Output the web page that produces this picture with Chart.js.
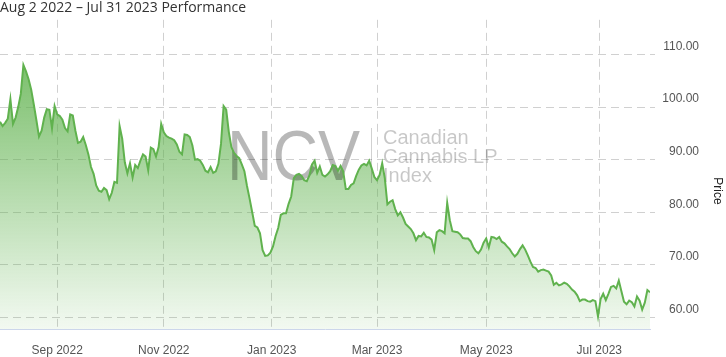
<!DOCTYPE html>
<html><head><meta charset="utf-8">
<script src="https://cdn.jsdelivr.net/npm/chart.js@4"></script>
<style>html,body{margin:0;padding:0;background:#fff;overflow:hidden}canvas{display:block}</style>
</head><body>
<canvas id="c" width="726" height="357"></canvas>
<script>
const titleText = 'Aug 2 2022 \u2013 Jul 31 2023 Performance';
const axisTitle = 'Price';
// x positions are trading-day indexes (Aug 2 2022 = 0)
const monthTickPositions = [22, 63, 104.5, 145, 187, 230.5];
const monthTickLabels = ['Sep 2022', 'Nov 2022', 'Jan 2023', 'Mar 2023', 'May 2023', 'Jul 2023'];
const priceTicks = [60, 70, 80, 90, 100, 110];
const prices = [
  97.2, 96.4, 97.0, 97.8, 101.5, 96.8, 98.0, 100.0, 102.5, 108.0,
  106.8, 105.3, 103.3, 100.5, 97.5, 94.4, 95.5, 98.0, 99.6, 99.5,
  96.0, 100.2, 98.6, 98.3, 97.6, 96.0, 95.4, 98.6, 98.4, 95.5,
  93.2, 93.4, 94.3, 92.8, 91.0, 88.6, 87.3, 85.1, 84.1, 83.9,
  84.6, 84.2, 82.5, 83.7, 85.8, 85.6, 96.4, 94.0, 89.5, 87.4,
  89.3, 86.6, 89.0, 88.4, 89.8, 91.0, 90.6, 88.0, 92.3, 92.0,
  90.6, 92.4, 96.8, 95.2, 94.5, 94.2, 94.0, 93.7, 92.9, 91.5,
  91.0, 94.8, 94.7, 94.3, 92.7, 90.0, 90.1, 89.8, 89.0, 87.9,
  87.6, 88.6, 87.5, 87.8, 89.2, 93.0, 100.2, 99.5, 95.3, 92.4,
  91.3, 90.7, 90.3, 89.1, 87.8, 85.0, 82.6, 80.0, 77.4, 77.1,
  76.0, 72.8, 71.7, 71.8, 72.3, 73.5, 75.5, 77.0, 79.5, 79.8,
  79.8, 81.6, 83.0, 86.5, 87.1, 87.3, 86.9, 86.1, 85.9, 87.0,
  89.1, 89.8, 87.5, 88.7, 87.1, 86.8, 87.2, 87.8, 89.0, 88.8,
  87.9, 88.8, 87.8, 84.4, 84.4, 85.2, 85.5, 86.9, 88.1, 88.9,
  89.2, 88.9, 89.8, 88.3, 86.7, 86.1, 87.1, 89.3, 86.5, 81.5,
  82.0, 82.3, 80.6, 79.4, 80.0, 79.0, 77.8, 77.3, 76.8, 76.0,
  74.7, 75.5, 75.4, 76.1, 75.3, 75.2, 74.8, 72.8, 76.2, 76.6,
  76.4, 76.0, 81.8, 78.5, 76.4, 76.3, 76.2, 75.8, 75.1, 75.0,
  75.0, 74.5, 73.4, 72.6, 72.2, 72.9, 74.2, 75.0, 73.3, 75.3,
  75.2, 74.9, 75.3, 74.4, 74.1, 73.5, 73.0, 72.2, 71.6, 72.1,
  73.0, 73.7, 72.9, 71.8, 70.6, 69.6, 69.4, 68.7, 69.0, 69.1,
  68.9, 68.7, 68.0, 66.2, 66.6, 66.1, 66.3, 66.6, 66.4, 65.9,
  65.3, 64.9, 64.2, 63.1, 63.4, 63.4, 63.1, 63.0, 63.3, 63.1,
  60.2, 63.5, 64.5, 63.3, 64.5, 65.8, 66.0, 65.5, 67.0, 65.0,
  63.0, 62.5, 63.2, 62.9, 62.1, 64.0, 63.2, 61.5, 62.8, 65.2, 64.8
];
const watermarkBig = 'NCV';
const watermarkLines = ['Canadian', 'Cannabis LP', 'Index'];

const FONT = '"Liberation Sans", Arial, sans-serif';
const green = 'rgb(96,178,78)';

const watermarkPlugin = {
  id: 'watermark',
  beforeDatasetsDraw(chart) {
    const c = chart.ctx;
    c.save();
    c.fillStyle = 'rgba(0,0,0,0.28)';
    c.font = '70px ' + FONT;
    c.textBaseline = 'alphabetic';
    c.textAlign = 'left';
    c.translate(227, 180);
    c.scale(0.9, 1);
    c.fillText(watermarkBig, 0, 0);
    c.restore();
    c.save();
    c.strokeStyle = 'rgba(0,0,0,0.18)';
    c.lineWidth = 1;
    c.beginPath();
    c.moveTo(371.5, 128);
    c.lineTo(371.5, 183);
    c.stroke();
    c.fillStyle = 'rgba(0,0,0,0.22)';
    c.font = '20px ' + FONT;
    c.textBaseline = 'alphabetic';
    c.textAlign = 'left';
    watermarkLines.forEach((t, k) => c.fillText(t, 383, 144 + k * 19));
    c.restore();
  }
};

const axisTitlePlugin = {
  id: 'axisTitle',
  afterDraw(chart) {
    const c = chart.ctx;
    c.save();
    c.translate(717, 191);
    c.rotate(Math.PI / 2);
    c.fillStyle = '#222';
    c.font = '12px ' + FONT;
    c.textAlign = 'center';
    c.textBaseline = 'middle';
    c.fillText(axisTitle, 0, 0);
    c.restore();
  }
};

new Chart(document.getElementById('c'), {
  type: 'line',
  data: {
    datasets: [{
      data: prices.map((v, i) => ({ x: i, y: v })),
      borderColor: green,
      borderWidth: 2,
      pointRadius: 0,
      tension: 0,
      fill: 'start',
      backgroundColor: (ctx) => {
        const a = ctx.chart.chartArea;
        if (!a) return 'rgba(96,178,78,0.4)';
        const g = ctx.chart.ctx.createLinearGradient(0, a.top, 0, a.bottom);
        g.addColorStop(0, 'rgba(96,178,78,0.95)');
        g.addColorStop(1, 'rgba(96,178,78,0.08)');
        return g;
      }
    }]
  },
  options: {
    responsive: false,
    animation: false,
    devicePixelRatio: 1,
    layout: { padding: { left: 0, top: 0, bottom: 0, right: 27 } },
    plugins: {
      legend: { display: false },
      tooltip: { enabled: false },
      filler: { drawTime: 'beforeDatasetsDraw' },
      title: {
        display: true,
        text: titleText,
        align: 'start',
        color: '#333',
        font: { family: '"Open Sans", sans-serif', size: 14, weight: 'normal', lineHeight: 1.2 },
        padding: { top: 0, bottom: 3 }
      }
    },
    scales: {
      x: {
        type: 'linear',
        min: 0,
        max: prices.length - 1,
        position: 'bottom',
        afterBuildTicks: (s) => { s.ticks = monthTickPositions.map(v => ({ value: v })); },
        afterFit: (s) => { s.height = 28; },
        ticks: {
          autoSkip: false,
          maxRotation: 0,
          padding: 14,
          color: '#555',
          font: { family: FONT, size: 12 },
          callback: (v) => monthTickLabels[monthTickPositions.indexOf(v)]
        },
        grid: { color: '#d0d0d0', drawTicks: false, lineWidth: 1 },
        border: { display: true, color: '#ccd6eb', width: 1, dash: [8, 5] }
      },
      y: {
        type: 'linear',
        position: 'right',
        min: 57.8,
        max: 116.6,
        afterBuildTicks: (s) => { s.ticks = priceTicks.map(v => ({ value: v })); },
        afterFit: (s) => { s.width = 49; },
        ticks: {
          padding: 7,
          crossAlign: 'far',
          labelOffset: -8,
          color: '#555',
          font: { family: FONT, size: 12 },
          callback: (v) => Number(v).toFixed(2)
        },
        grid: { color: '#d0d0d0', drawTicks: true, tickLength: 5, tickColor: '#d0d0d0', tickBorderDash: [] },
        border: { display: false, dash: [8, 5] }
      }
    }
  },
  plugins: [watermarkPlugin, axisTitlePlugin]
});
</script>
</body></html>
